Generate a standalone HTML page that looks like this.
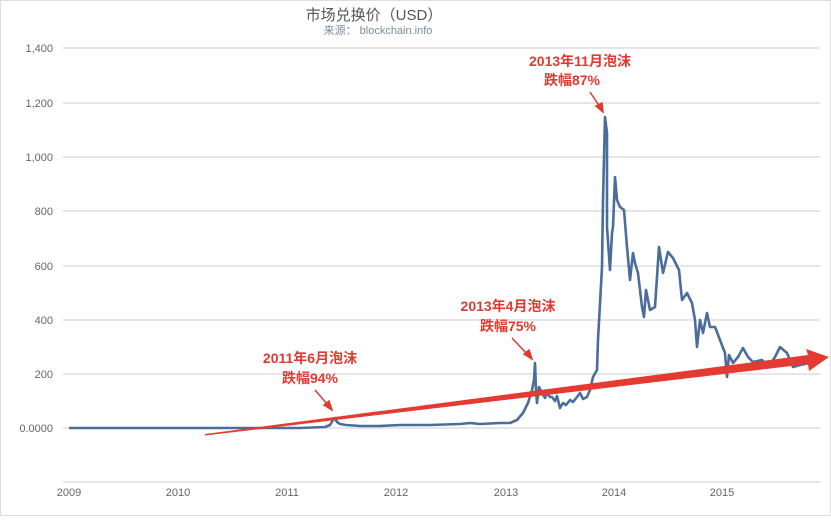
<!DOCTYPE html>
<html><head><meta charset="utf-8"><style>
body{margin:0;background:#fff;}
svg text{font-family:"Liberation Sans","Noto Sans CJK SC",sans-serif;}
</style></head><body>
<svg width="831" height="516" viewBox="0 0 831 516" xmlns="http://www.w3.org/2000/svg">
<rect x="0" y="0" width="831" height="516" fill="#fff"/>
<rect x="0.5" y="0.5" width="830" height="515" fill="none" stroke="#ddd"/>
<text x="374" y="20" font-size="15" fill="#555" text-anchor="middle">市场兑换价（USD）</text>
<text x="378" y="34" font-size="11" fill="#7a8aa0" text-anchor="middle">来源：  blockchain.info</text>
<g stroke="#d8d8d8" stroke-width="1.2">
<line x1="63" y1="48" x2="820" y2="48"/><line x1="63" y1="103" x2="820" y2="103"/>
<line x1="63" y1="157" x2="820" y2="157"/><line x1="63" y1="211" x2="820" y2="211"/>
<line x1="63" y1="266" x2="820" y2="266"/><line x1="63" y1="320" x2="820" y2="320"/>
<line x1="63" y1="374" x2="820" y2="374"/><line x1="63" y1="428" x2="820" y2="428"/>
<line x1="63" y1="482" x2="820" y2="482"/>
</g>
<g font-size="11" fill="#666" text-anchor="end">
<text x="53" y="52">1,400</text><text x="53" y="107">1,200</text><text x="53" y="161">1,000</text>
<text x="53" y="215">800</text><text x="53" y="270">600</text><text x="53" y="324">400</text>
<text x="53" y="378">200</text><text x="53" y="432">0.0000</text>
</g>
<g font-size="11" fill="#666" text-anchor="middle">
<text x="69" y="496">2009</text><text x="178" y="496">2010</text><text x="287" y="496">2011</text>
<text x="396" y="496">2012</text><text x="506" y="496">2013</text><text x="614" y="496">2014</text><text x="722" y="496">2015</text>
</g>
<polyline fill="none" stroke="#4a6d9c" stroke-width="2.6" stroke-linejoin="round" points="
69,428 300,428 325,427 330,425 333,420 335,418 337,422 340,424 346,425 360,426 380,426 400,425 430,425 460,424 470,423 480,424 500,423 510,423 517,420 523,413 528,403 532,390 534,380 535,363 536,390 537,403 539,387 542,393 545,398 547,393 550,397 552,397 555,401 557,396 560,408 563,403 566,405 570,400 573,402 577,397 580,393 583,399 587,397 590,390 593,377 597,370 598,340 602,267 603,200 605,117 607,133 607,183 607,227 610,270 612,233 613,227 615,177 617,200 620,207 624,210 627,247 630,280 633,253 635,263 638,273 642,307 644,317 646,290 650,310 655,307 659,247 663,273 668,252 673,258 679,270 682,300 687,293 692,303 695,320 697,347 700,320 703,333 707,313 710,327 715,327 720,340 725,353 727,377 729,355 733,363 738,357 743,348 748,357 753,362 762,360 768,367 775,357 780,347 787,353 793,367 800,365 810,363"/>
<polygon points="205,434 808,355 806,349 829,357 809,371 808,364 205,435.5" fill="#e53a32"/>
<g fill="#e03a30" font-size="14" font-weight="bold" text-anchor="middle">
<text x="580" y="66">2013年11月泡沫</text><text x="572" y="85">跌幅87%</text>
<text x="508" y="311">2013年4月泡沫</text><text x="508" y="331">跌幅75%</text>
<text x="310" y="363">2011年6月泡沫</text><text x="310" y="383">跌幅94%</text>
</g>
<g stroke="#e03a30" stroke-width="1.5" fill="#e03a30">
<line x1="590" y1="92" x2="600" y2="107"/><polygon points="603,112 596,106 602,103"/>
<line x1="512" y1="338" x2="528" y2="355"/><polygon points="532,359 524,354 529,350"/>
<line x1="315" y1="390" x2="328" y2="405"/><polygon points="332,410 324,405 329,401"/>
</g>
</svg>
</body></html>
